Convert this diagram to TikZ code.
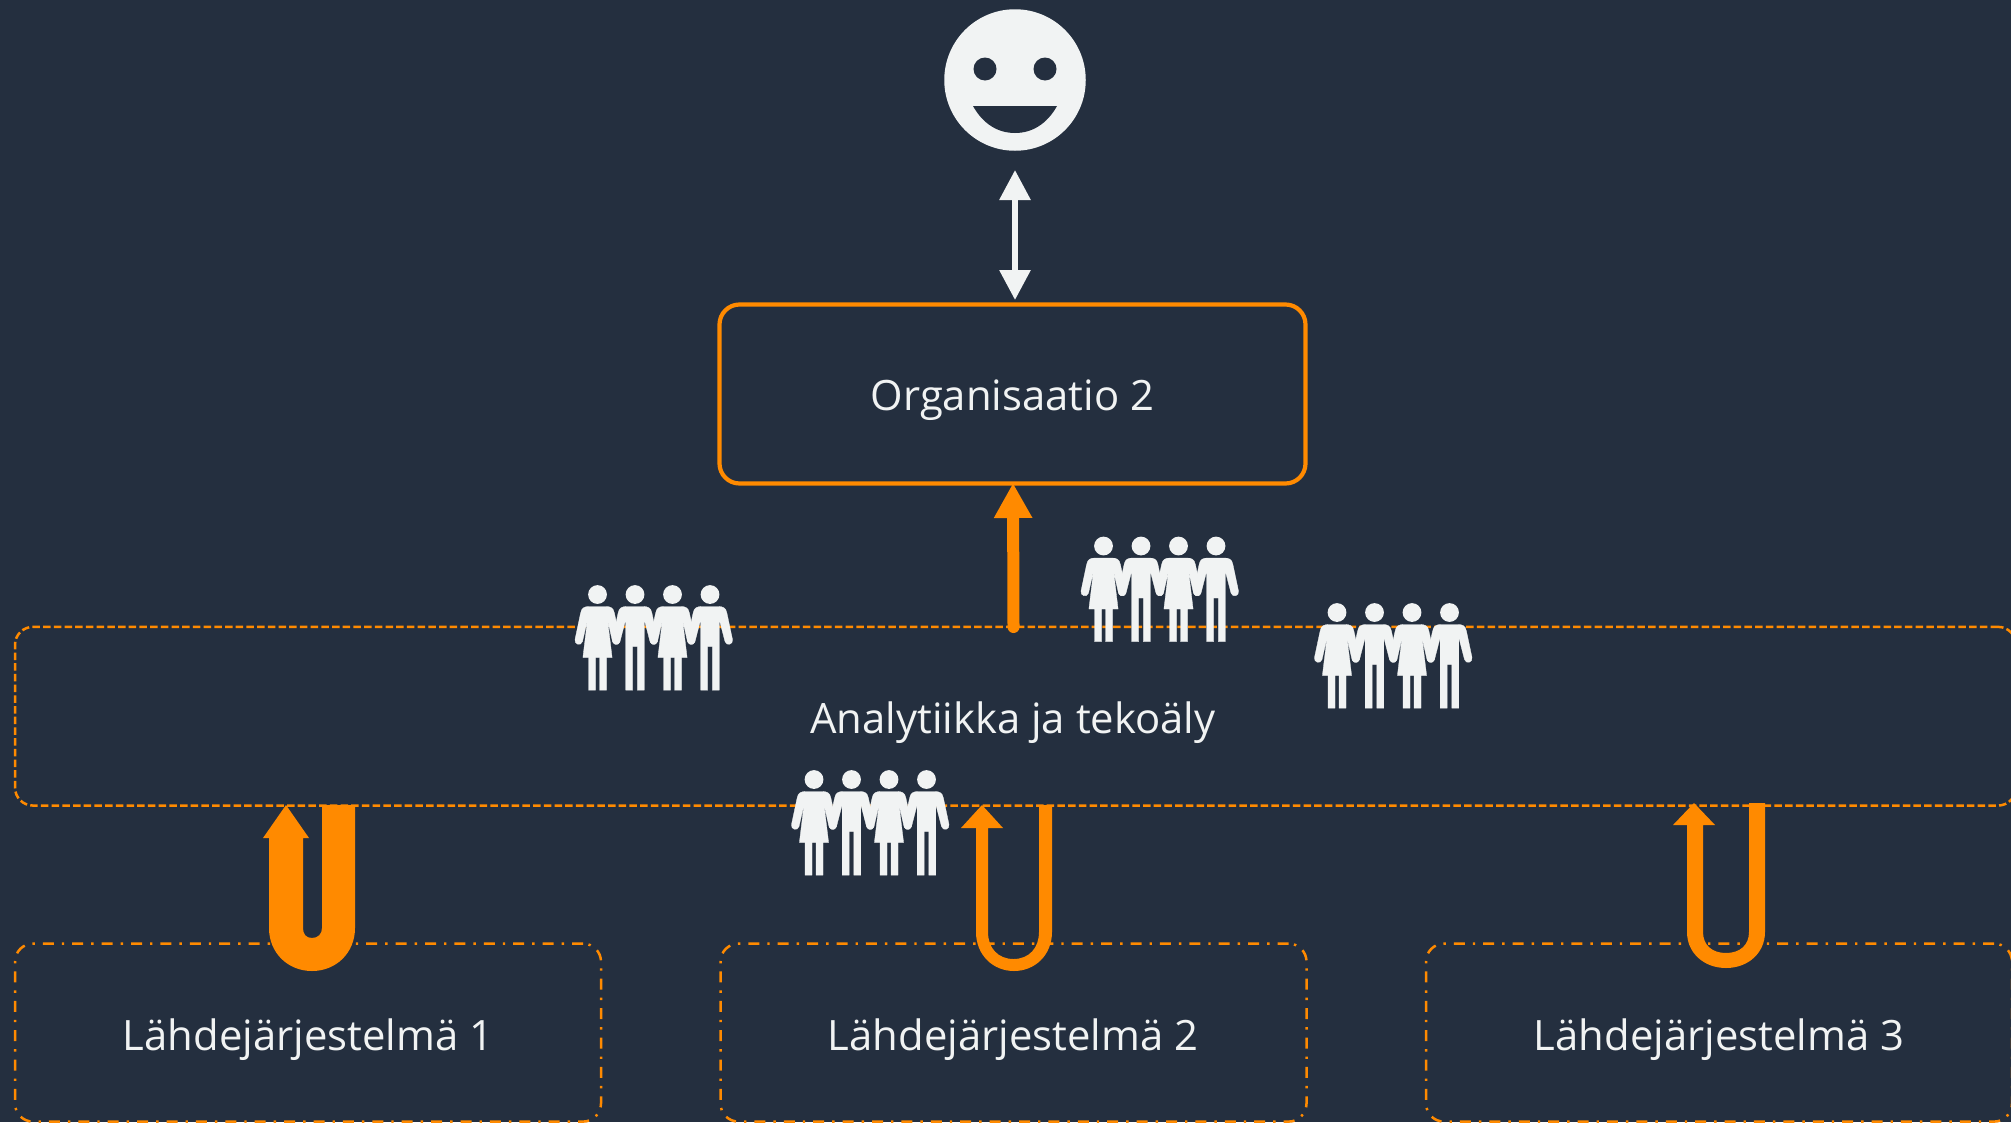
\documentclass[tikz,border=0pt]{standalone}
\usepackage{fontspec}
\setmainfont{Open Sans}
\usetikzlibrary{arrows.meta}
\definecolor{bgc}{HTML}{242F3F}
\definecolor{org}{HTML}{FF8A00}
\definecolor{fg}{HTML}{F1F3F3}
\tikzset{
  solidbox/.style={draw=org,line width=4.2pt,rounded corners=20pt,inner sep=0pt},
  dashbox/.style={draw=org,line width=2.5pt,rounded corners=18pt,inner sep=0pt,dash pattern=on 7.5pt off 3.2pt},
  dotbox/.style={draw=org,line width=2.5pt,rounded corners=18pt,inner sep=0pt,dash pattern=on 11pt off 8pt on 2.4pt off 8pt},
  lab/.style={text=fg,font=\fontsize{41.8}{48}\selectfont},
  ublock/.style={fill=org},
  pics/people/.style={code={
    \foreach \d in {0,75}{
      \begin{scope}[xshift=\d pt]
      \fill[fg] (0,0) circle (9.4);
      \filldraw[fg,line width=.3pt,line join=round] (-8,12) -- (8,12) .. controls (13,12) and (16,13) .. (17,19) -- (22.5,45) .. controls (23.5,50) and (16.5,52) .. (15,47) -- (10,25) -- (14.6,63) -- (9,63) -- (9,95.7) -- (2,95.7) -- (2,63) -- (-2,63) -- (-2,95.7) -- (-9,95.7) -- (-9,63) -- (-14.6,63) -- (-10,25) -- (-15,47) .. controls (-16.5,52) and (-23.5,50) .. (-22.5,45) -- (-17,19) .. controls (-16,13) and (-13,12) .. (-8,12) -- cycle;
      \fill[fg] (37.5,0) circle (9.4);
      \begin{scope}[xshift=37.5pt]
      \filldraw[fg,line width=.3pt,line join=round] (-8,12) -- (8,12) .. controls (13,12) and (16,13) .. (17,19) -- (22.5,45) .. controls (23.5,50) and (16.5,52) .. (15,47) -- (9.3,25) -- (9.3,95.7) -- (2.3,95.7) -- (2.3,52) -- (-2.3,52) -- (-2.3,95.7) -- (-9.3,95.7) -- (-9.3,25) -- (-15,47) .. controls (-16.5,52) and (-23.5,50) .. (-22.5,45) -- (-17,19) .. controls (-16,13) and (-13,12) .. (-8,12) -- cycle;
      \end{scope}
      \end{scope}
    }
  }}
}
\begin{document}
\begin{tikzpicture}[x=1pt,y=-1pt]
\useasboundingbox (0,0) rectangle (2011,1122);
\clip (0,0) rectangle (2011,1122);
\fill[bgc] (0,0) rectangle (2011,1122);

% boxes
\node[solidbox,minimum width=586pt,minimum height=179pt] (orgbox) at (1012.5,394) {};
\node[dashbox,minimum width=2001pt,minimum height=178.7pt] (ana) at (1015.5,716.2) {};
\node[dotbox,minimum width=586pt,minimum height=178pt] (s1) at (308,1032.6) {};
\node[dotbox,minimum width=586pt,minimum height=178pt] (s2) at (1013.5,1032.6) {};
\node[dotbox,minimum width=586pt,minimum height=178pt] (s3) at (1719,1032.6) {};

\node[lab] (t0) at (1012.5,400) {Organisaatio 2};
\node[lab] (t1) at (1013,723) {Analytiikka ja tekoäly};
\node[lab] (t2) at (308,1039.5) {Lähdejärjestelmä 1};
\node[lab] (t3) at (1013,1039.5) {Lähdejärjestelmä 2};
\node[lab] (t4) at (1719,1039.5) {Lähdejärjestelmä 3};

% face
\node[circle,fill=fg,minimum size=141.5pt,inner sep=0pt] (face) at (1015,80) {};
\fill[bgc] (985,69) circle (11.5) (1045,69) circle (11.5);
\fill[bgc] (973,106) -- (1057,106) .. controls (1047,124) and (1032,133) .. (1015,133) .. controls (998,133) and (983,124) .. (973,106) -- cycle;

% double arrow
\coordinate (da) at (1015,170);
\coordinate (db) at (1015,300);
\draw[fg,line width=6pt,{Triangle[length=30pt,width=30pt]}-{Triangle[length=30pt,width=30pt]}] (da) -- (db);

% orange up arrow
\coordinate (ub) at (1013.5,627);
\coordinate (ut) at (1013,483);
\draw[org,line width=12pt,-{Triangle[length=35pt,width=36pt]}] (ub) -- (ut);
\fill[org] (ub) circle (6);

% U arrows
\fill[ublock] (286,805) -- (309,838) -- (303,838) -- (303,928) .. controls (303,934) and (306,938) .. (312,938) .. controls (318,938) and (322,934) .. (322,928) -- (322,805) -- (355,805) -- (355,928) .. controls (355,953) and (336,971) .. (312,971) .. controls (288,971) and (269,953) .. (269,928) -- (269,838) -- (263,838) -- cycle;
\fill[ublock] (982,805) -- (1003,828) -- (988,828) -- (988,932) .. controls (988,948) and (998,959) .. (1013.5,959) .. controls (1029,959) and (1039,948) .. (1039,932) -- (1039,805) -- (1052,805) -- (1052,932) .. controls (1052,955) and (1035,971) .. (1014,971) .. controls (993,971) and (976,955) .. (976,932) -- (976,828) -- (961,828) -- cycle;
\fill[ublock] (1694,803) -- (1715,825) -- (1703,825) -- (1703,932) .. controls (1703,945) and (1712,953) .. (1726,953) .. controls (1740,953) and (1749,945) .. (1749,932) -- (1749,803) -- (1765,803) -- (1765,932) .. controls (1765,953) and (1748,968) .. (1726,968) .. controls (1704,968) and (1687,953) .. (1687,932) -- (1687,825) -- (1673,825) -- cycle;

% people
\pic at (597.5,594.5) {people};
\pic at (1103.5,546) {people};
\pic at (1337,612.5) {people};
\pic at (814,779.5) {people};
\end{tikzpicture}
\end{document}
